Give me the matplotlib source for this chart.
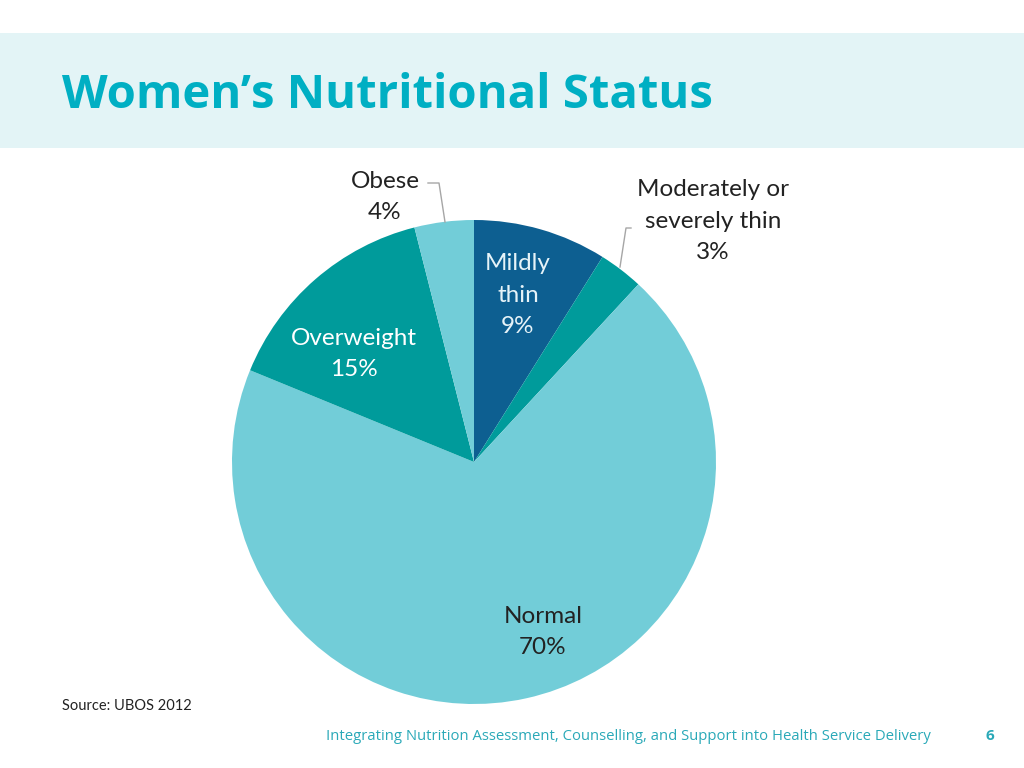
import matplotlib
matplotlib.use("Agg")
import matplotlib.pyplot as plt
from matplotlib.patches import Rectangle

categories = ["Mildly\nthin", "Moderately or\nseverely thin", "Normal", "Overweight", "Obese"]
values = [9, 3, 70, 15, 4]
pct_labels = ["9%", "3%", "70%", "15%", "4%"]
colors = ["#0d5f91", "#009b9b", "#72cdd8", "#009b9b", "#72cdd8"]

W, H = 1024, 768
fig = plt.figure(figsize=(W / 100, H / 100), dpi=100)
fig.patch.set_facecolor("white")

# header band
fig.patches.append(Rectangle((0, 1 - 148 / H), 1, (148 - 33) / H, transform=fig.transFigure,
                             facecolor="#e3f4f6", edgecolor="none", zorder=0))
FONT = ["Open Sans", "DejaVu Sans"]
LFONT = ["Lato", "DejaVu Sans"]
fig.text(62 / W, 1 - 95 / H, "Women\u2019s Nutritional Status", fontsize=34, fontweight="bold",
         color="#00afc3", family=FONT, va="center", ha="left")

# pie
cx, cy, R = 474, 462, 242
ax = fig.add_axes([(cx - R) / W, (H - cy - R) / H, 2 * R / W, 2 * R / H])
ax.pie(values, colors=colors, startangle=90, counterclock=False, radius=1,
       wedgeprops=dict(linewidth=0))
ax.set_xlim(-1, 1)
ax.set_ylim(-1, 1)
ax.set_aspect("equal")
ax.axis("off")


def P(px, py):
    return ((px - cx) / R, (cy - py) / R)


lab_fs = 17.5
txt_kw = dict(ha="center", va="center", fontsize=lab_fs, family=LFONT, linespacing=1.6)
ax.text(*P(518, 295), categories[0] + "\n" + pct_labels[0], color="#e6f3f8", **txt_kw)
ax.text(*P(713, 221), categories[1] + "\n" + pct_labels[1], color="#222222", **txt_kw)
ax.text(*P(543, 632), categories[2] + "\n" + pct_labels[2], color="#222222", **txt_kw)
ax.text(*P(354, 354), categories[3] + "\n" + pct_labels[3], color="white", **txt_kw)
ax.text(*P(385, 197), categories[4] + "\n" + pct_labels[4], color="#222222", **txt_kw)

# leader lines
lx, ly = zip(P(428, 183), P(439, 183), P(445, 222))
ax.plot(lx, ly, color="#a6a6a6", lw=1, clip_on=False)
lx, ly = zip(P(631, 228), P(626, 228), P(620, 267))
ax.plot(lx, ly, color="#a6a6a6", lw=1, clip_on=False)

# footer
fig.text(62 / W, 1 - 706 / H, "Source: UBOS 2012", fontsize=10.5, color="#222222",
         family=LFONT, va="center", ha="left")
fig.text(326 / W, 1 - 736 / H,
         "Integrating Nutrition Assessment, Counselling, and Support into Health Service Delivery",
         fontsize=10.7, color="#2aa9b8", family=FONT, va="center", ha="left")
fig.text(990 / W, 1 - 736 / H, "6", fontsize=11, fontweight="bold", color="#2aa9b8",
         family=FONT, va="center", ha="center")

fig.savefig("out.png", dpi=100)
